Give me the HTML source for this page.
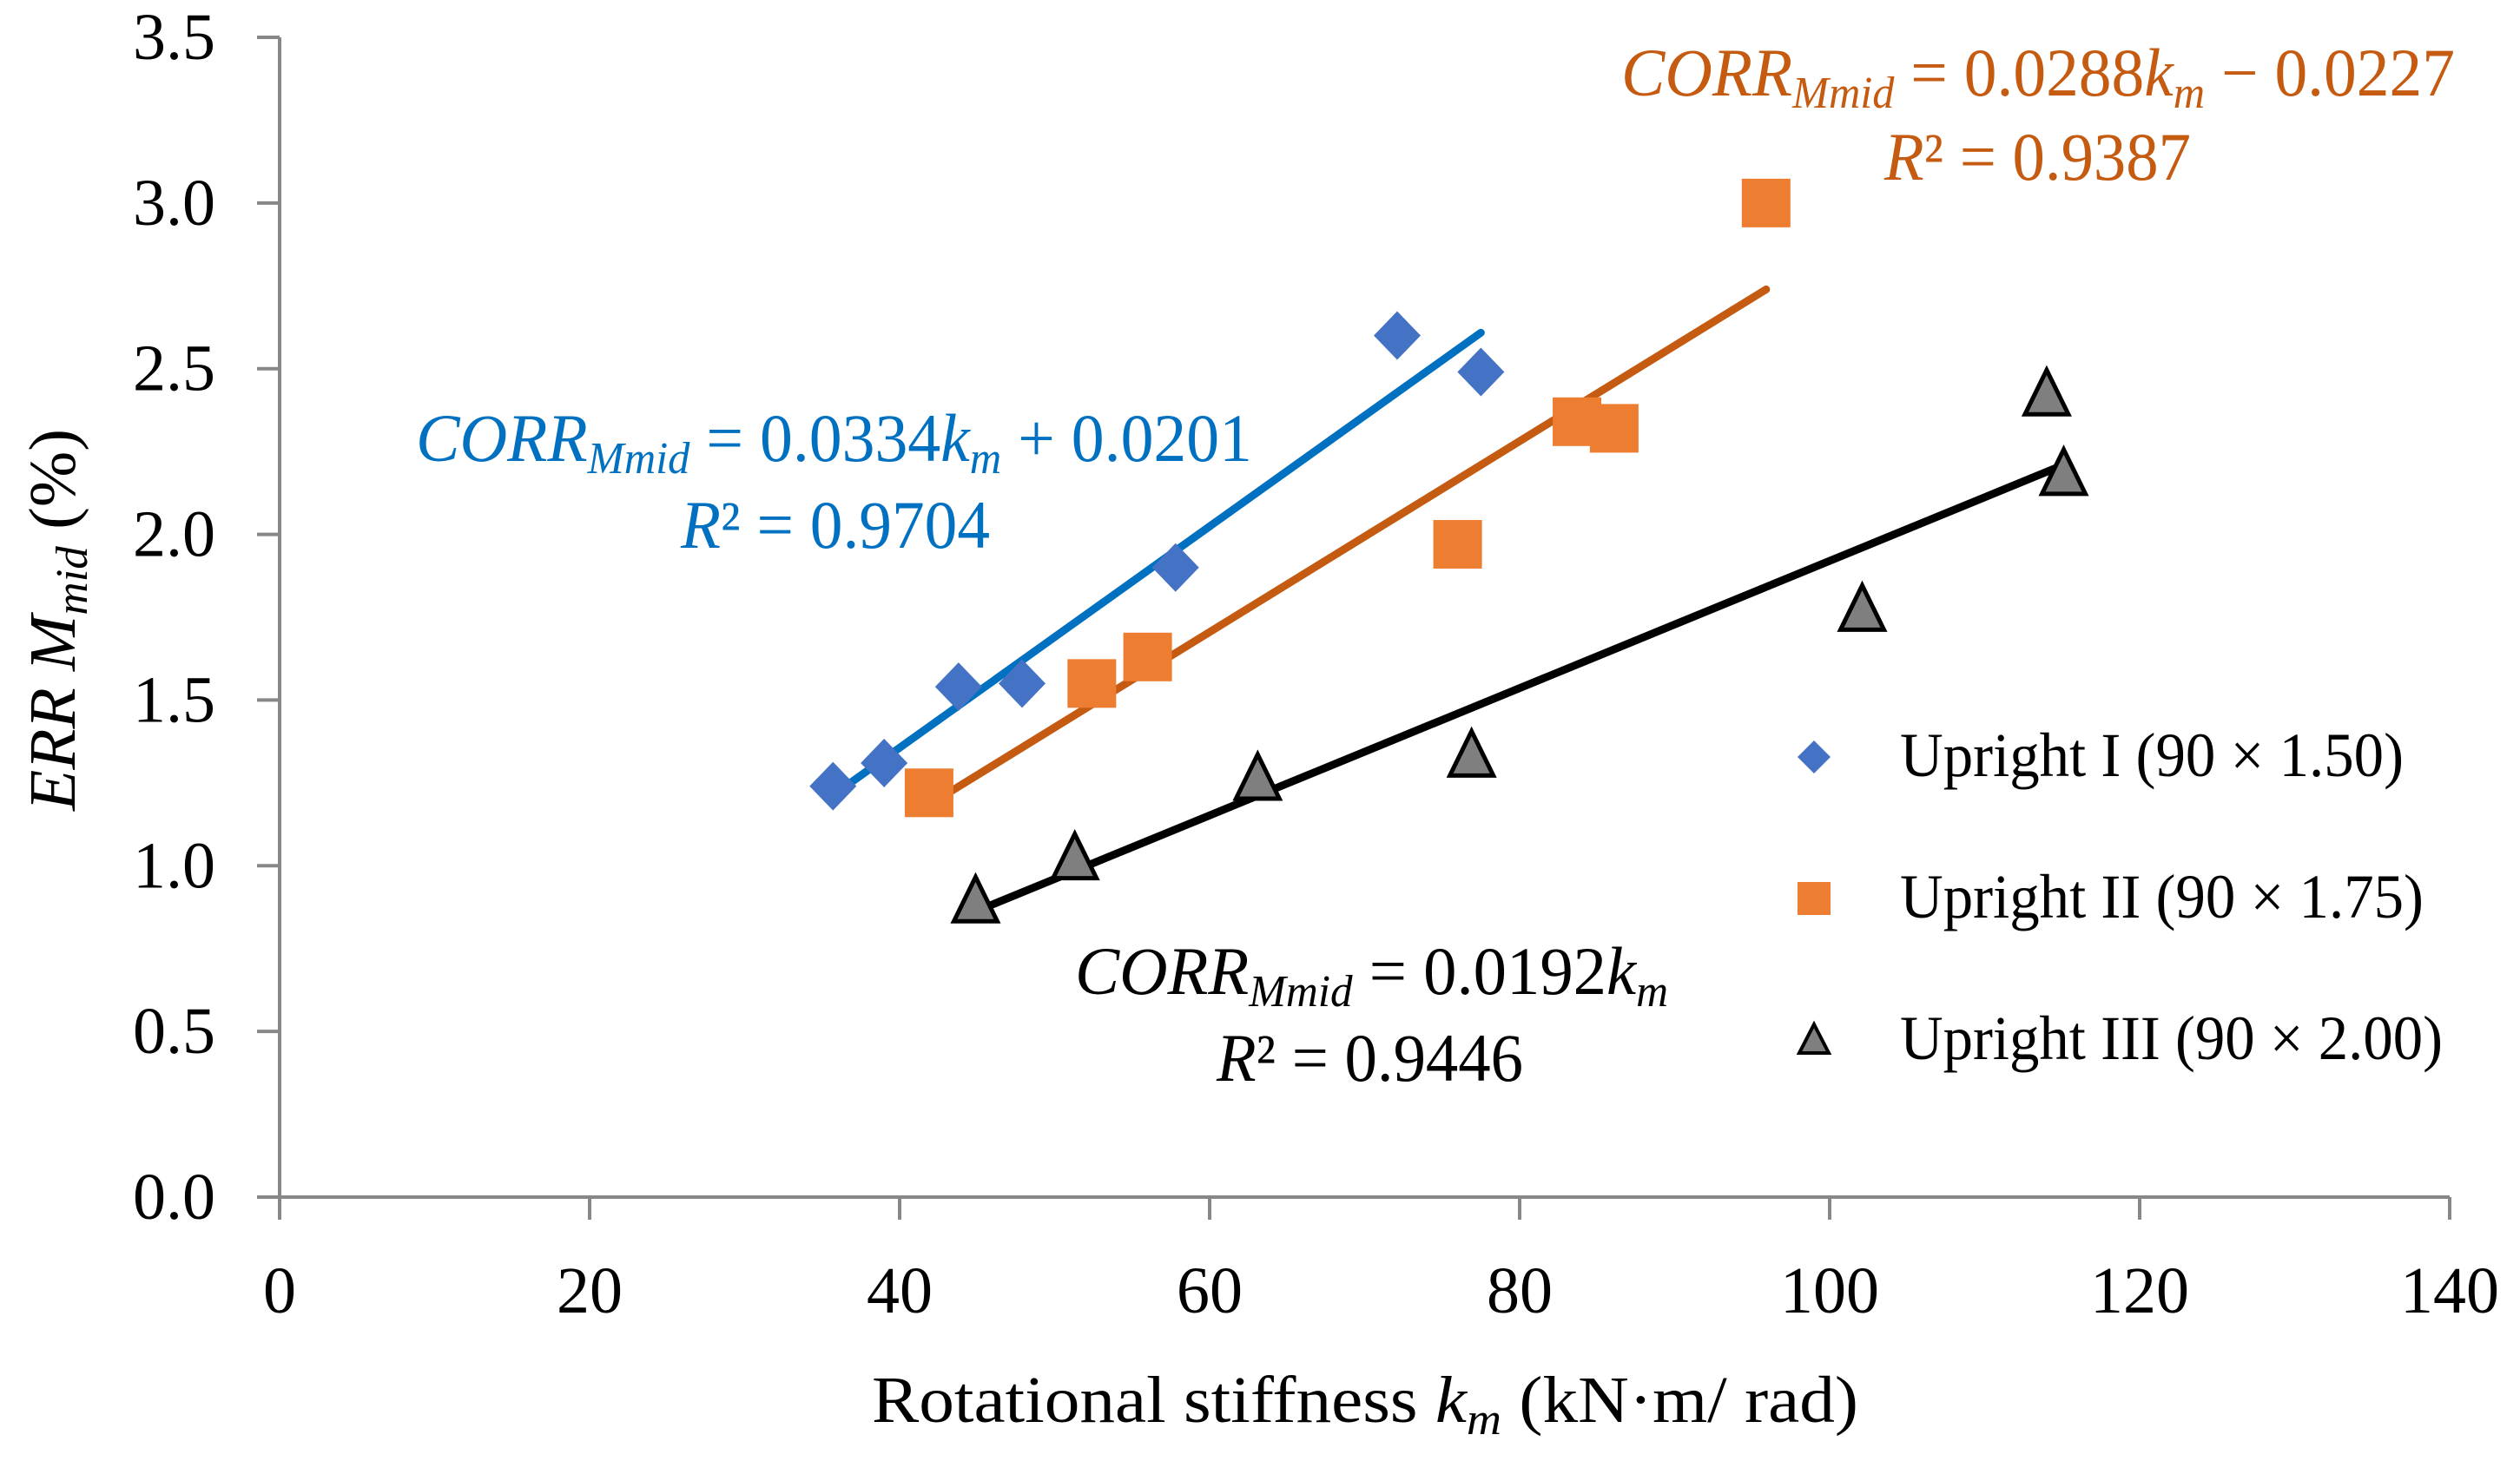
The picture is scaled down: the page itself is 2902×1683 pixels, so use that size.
<!DOCTYPE html>
<html><head><meta charset="utf-8"><style>
html,body{margin:0;padding:0;background:#fff;}
svg{display:block;font-family:"Liberation Serif",serif;}
</style></head><body>
<svg id="chart" width="2902" height="1683" viewBox="0 0 2902 1683" xmlns="http://www.w3.org/2000/svg">
<g id="axes"></g>
<g id="lines"></g>
<g id="marks"></g>
<g fill="#0070C0" font-style="italic" font-size="78">
<text x="479" y="531" textLength="963" lengthAdjust="spacingAndGlyphs">CORR<tspan font-size="52" dy="14">Mmid</tspan><tspan font-style="normal" dy="-14"> = 0.0334</tspan>k<tspan font-size="52" dy="14">m</tspan><tspan font-style="normal" dy="-14"> + 0.0201</tspan></text>
<text x="784" y="631" textLength="356" lengthAdjust="spacingAndGlyphs">R<tspan font-style="normal">² = 0.9704</tspan></text>
</g>
<g fill="#C55A11" font-style="italic" font-size="78">
<text x="1867" y="110" textLength="960" lengthAdjust="spacingAndGlyphs">CORR<tspan font-size="52" dy="14">Mmid</tspan><tspan font-style="normal" dy="-14"> = 0.0288</tspan>k<tspan font-size="52" dy="14">m</tspan><tspan font-style="normal" dy="-14"> − 0.0227</tspan></text>
<text x="2170" y="207" textLength="353" lengthAdjust="spacingAndGlyphs">R<tspan font-style="normal">² = 0.9387</tspan></text>
</g>
<g fill="#000" font-style="italic" font-size="78">
<text x="1238" y="1145" textLength="683" lengthAdjust="spacingAndGlyphs">CORR<tspan font-size="52" dy="14">Mmid</tspan><tspan font-style="normal" dy="-14"> = 0.0192</tspan>k<tspan font-size="52" dy="14">m</tspan></text>
<text x="1401" y="1245" textLength="353" lengthAdjust="spacingAndGlyphs">R<tspan font-style="normal">² = 0.9446</tspan></text>
</g>
<g id="legend" font-size="72" fill="#000"></g>
<text x="1004" y="1638" font-size="76" textLength="1136" lengthAdjust="spacingAndGlyphs">Rotational stiffness <tspan font-style="italic">k</tspan><tspan font-style="italic" font-size="52" dy="14">m</tspan><tspan dy="-14"> (kN·m/ rad)</tspan></text>
<text transform="translate(86,934) rotate(-90)" x="0" y="0" font-size="76" textLength="440" lengthAdjust="spacingAndGlyphs"><tspan font-style="italic">ERR M</tspan><tspan font-style="italic" font-size="52" dy="14">mid</tspan><tspan dy="-14"> (%)</tspan></text>
</svg>
<script>
const xTicks = [0, 20, 40, 60, 80, 100, 120, 140];
const yTicks = [0.0, 0.5, 1.0, 1.5, 2.0, 2.5, 3.0, 3.5];
const seriesNames = ["Upright I (90 × 1.50)", "Upright II (90 × 1.75)", "Upright III (90 × 2.00)"];
const s1x = [35.7, 39.0, 43.8, 47.9, 57.8, 72.1, 77.5];
const s1y = [1.24, 1.31, 1.54, 1.55, 1.90, 2.60, 2.49];
const s2x = [41.9, 52.4, 56.0, 76.0, 83.7, 86.1, 95.9];
const s2y = [1.22, 1.55, 1.63, 1.97, 2.34, 2.32, 3.00];
const s3x = [44.9, 51.3, 63.1, 76.9, 102.1, 114.0, 115.1];
const s3y = [0.89, 1.02, 1.26, 1.33, 1.77, 2.42, 2.18];
const slopes = [0.0334, 0.0288, 0.0192];
const intercepts = [0.0201, -0.0227, 0];

const NS = "http://www.w3.org/2000/svg";
const X0 = 322, X1 = 2821, Y0 = 1379, Y1 = 43;
const xs = v => X0 + (v - 0) / 140 * (X1 - X0);
const ys = v => Y0 - (v - 0) / 3.5 * (Y0 - Y1);
function mk(tag, attrs, parent) {
  const e = document.createElementNS(NS, tag);
  for (const k in attrs) e.setAttribute(k, attrs[k]);
  parent.appendChild(e);
  return e;
}
const axes = document.getElementById('axes');
const ax = '#878787';
let e = mk('line', {x1: X0, y1: Y1, x2: X0, y2: Y0, stroke: ax, 'stroke-width': 4}, axes);


e = mk('line', {x1: X0, y1: Y0, x2: X1, y2: Y0, stroke: ax, 'stroke-width': 4}, axes);


yTicks.forEach(t => {
  const y = ys(t);
  let l = mk('line', {x1: X0 - 26, y1: y, x2: X0, y2: y, stroke: ax, 'stroke-width': 4}, axes);
  
  
  let tx = mk('text', {x: 248, y: y + 25, 'font-size': 76, 'text-anchor': 'end'}, axes);
  tx.textContent = t.toFixed(1);
  
  
});
xTicks.forEach(t => {
  const x = xs(t);
  let l = mk('line', {x1: x, y1: Y0, x2: x, y2: Y0 + 26, stroke: ax, 'stroke-width': 4}, axes);
  
  
  let tx = mk('text', {x: x, y: 1512, 'font-size': 76, 'text-anchor': 'middle'}, axes);
  tx.textContent = t;
  
  
});
const lines = document.getElementById('lines');
const allX = [s1x, s2x, s3x];
const lineColors = ['#0070C0', '#C55A11', '#000000'];
allX.forEach((arr, i) => {
  const a = Math.min(...arr), b = Math.max(...arr);
  let l = mk('line', {x1: xs(a), y1: ys(slopes[i]*a + intercepts[i]), x2: xs(b), y2: ys(slopes[i]*b + intercepts[i]), stroke: lineColors[i], 'stroke-width': 9, 'stroke-linecap': 'round'}, lines);
  
  
});
const marks = document.getElementById('marks');
function diamond(cx, cy, parent) {
  return mk('polygon', {points: `${cx},${cy-28} ${cx+27},${cy} ${cx},${cy+28} ${cx-27},${cy}`, fill: '#4472C4'}, parent);
}
function square(cx, cy, parent) {
  return mk('rect', {x: cx-28, y: cy-28, width: 56, height: 56, fill: '#ED7D31'}, parent);
}
function tri(cx, cy, parent) {
  return mk('polygon', {points: `${cx},${cy-29} ${cx+25},${cy+22} ${cx-25},${cy+22}`, fill: '#7F7F7F', stroke: '#000', 'stroke-width': 5, 'stroke-linejoin': 'miter'}, parent);
}
s1x.forEach((v, i) => {
  const m = diamond(xs(v), ys(s1y[i]), marks);
  
  
});
s2x.forEach((v, i) => {
  const m = square(xs(v), ys(s2y[i]), marks);
  
  
});
s3x.forEach((v, i) => {
  const m = tri(xs(v), ys(s3y[i]), marks);
  
  
});
const legend = document.getElementById('legend');
const lgY = [894, 1057, 1220];
const lgW = [580, 603, 625];
const makers = [
  (cx, cy) => mk('polygon', {points: `${cx},${cy-19} ${cx+19},${cy} ${cx},${cy+19} ${cx-19},${cy}`, fill: '#4472C4'}, legend),
  (cx, cy) => mk('rect', {x: cx-19, y: cy-19, width: 38, height: 38, fill: '#ED7D31'}, legend),
  (cx, cy) => mk('polygon', {points: `${cx},${cy-18} ${cx+17},${cy+15} ${cx-17},${cy+15}`, fill: '#7F7F7F', stroke: '#000', 'stroke-width': 4}, legend)
];
seriesNames.forEach((n, i) => {
  const m = makers[i](2089, lgY[i] - 22);
  
  
  const t = mk('text', {x: 2188, y: lgY[i], textLength: lgW[i], lengthAdjust: 'spacingAndGlyphs'}, legend);
  t.textContent = n;
  
  
});
</script>
</body></html>
